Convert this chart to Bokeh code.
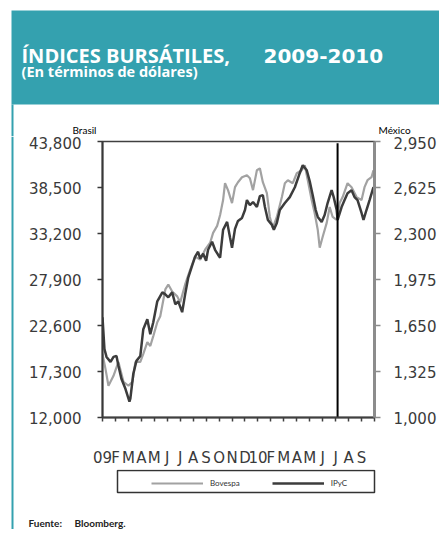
from bokeh.plotting import figure
from bokeh.layouts import column, row
from bokeh.models import (Range1d, LinearAxis, FixedTicker, NumeralTickFormatter,
                          Label, Legend, LegendItem)
from bokeh.embed import file_html
from bokeh.resources import INLINE

# ---------------- data ----------------
month_labels = ["09", "F", "M", "A", "M", "J", "J", "A", "S", "O", "N", "D",
                "10", "F", "M", "A", "M", "J", "J", "A", "S", ""]
month_ticks = list(range(22))

bra_ticks = [12000, 17300, 22600, 27900, 33200, 38500, 43800]
mex_ticks = [1000, 1325, 1650, 1975, 2300, 2625, 2950]

bov_month = [0.00, 0.23, 0.46, 0.85, 1.23, 1.62, 2.00, 2.31, 2.54, 2.92,
             3.15, 3.46, 3.69, 3.92, 4.23, 4.46, 4.85, 5.08, 5.38, 5.77,
             6.00, 6.38, 6.77, 7.15, 7.54, 7.92, 8.31, 8.54, 8.85, 9.08,
             9.31, 9.46, 9.69, 10.00, 10.23, 10.46, 10.77, 11.15, 11.38, 11.62,
             11.92, 12.15, 12.38, 12.69, 12.92, 13.15, 13.46, 13.85, 14.08, 14.31,
             14.69, 15.00, 15.38, 15.62, 15.85, 16.15, 16.38, 16.62, 16.77, 17.00,
             17.31, 17.54, 17.77, 18.08, 18.31, 18.54, 18.92, 19.23, 19.62, 20.00,
             20.23, 20.46, 20.77, 20.92]
bov_value = [19321, 17605, 15660, 16804, 18405, 16118, 15660, 16118, 18405, 18405,
             19321, 20693, 20236, 21380, 22981, 23667, 26756, 27328, 26527, 25955,
             25269, 27328, 29044, 30531, 30188, 31331, 32132, 33276, 34077, 35335,
             37051, 38996, 38195, 36708, 38538, 39110, 39682, 39911, 39568, 38195,
             40483, 40711, 39110, 37852, 35106, 33848, 35106, 37394, 38996, 39339,
             38996, 40140, 40483, 41055, 39339, 37051, 35564, 33619, 31560, 32819,
             34420, 36250, 35106, 34763, 36708, 37394, 38996, 38538, 37394, 37051,
             38538, 39339, 39682, 40483]

ipc_month = [0.00, 0.15, 0.31, 0.62, 0.85, 1.08, 1.23, 1.46, 1.77, 2.08,
             2.15, 2.38, 2.62, 2.92, 3.15, 3.46, 3.69, 3.92, 4.23, 4.62,
             4.85, 5.08, 5.38, 5.62, 5.85, 6.15, 6.38, 6.62, 6.92, 7.15,
             7.38, 7.54, 7.77, 8.00, 8.15, 8.46, 8.69, 8.92, 9.08, 9.31,
             9.62, 9.85, 10.00, 10.23, 10.46, 10.77, 11.00, 11.15, 11.38, 11.62,
             11.92, 12.15, 12.38, 12.54, 12.77, 13.08, 13.23, 13.46, 13.69, 14.08,
             14.46, 14.85, 15.23, 15.46, 15.77, 16.00, 16.23, 16.46, 16.62, 16.92,
             17.15, 17.38, 17.69, 17.85, 18.08, 18.15, 18.46, 18.69, 18.92, 19.23,
             19.46, 19.69, 20.00, 20.15, 20.38, 20.62, 20.92]
ipc_value = [1708, 1484, 1428, 1393, 1428, 1435, 1365, 1274, 1203, 1112,
             1133, 1309, 1400, 1435, 1624, 1694, 1589, 1673, 1821, 1884,
             1870, 1849, 1884, 1800, 1821, 1744, 1870, 1989, 2073, 2136,
             2171, 2122, 2157, 2108, 2185, 2242, 2185, 2150, 2129, 2326,
             2382, 2270, 2199, 2333, 2389, 2410, 2466, 2536, 2501, 2522,
             2487, 2564, 2571, 2487, 2396, 2361, 2326, 2375, 2466, 2515,
             2557, 2627, 2726, 2782, 2747, 2669, 2571, 2466, 2417, 2382,
             2431, 2515, 2606, 2557, 2466, 2396, 2487, 2536, 2585, 2606,
             2557, 2536, 2445, 2396, 2466, 2536, 2627]

spike_month = [18.15]

series_names = ["Bovespa", "IPyC"]
title_parts = ["ÍNDICES BURSÁTILES,", "2009-2010"]
subtitle_text = "(En términos de dólares)"
source_parts = ["Fuente:", "Bloomberg."]

# ---------------- styles ----------------
TEAL = "#34A1AF"
TXT = "#3a3a3a"
BOV_COL = "#a2a2a2"
IPC_COL = "#3c3c3c"
W, H = 439, 529
HEAD_H = 136
RULE_W = 14
MAIN_H = 333
FOOT_H = H - HEAD_H - MAIN_H


def blank(width, height):
    f = figure(width=width, height=height, output_backend="svg", toolbar_location=None,
               x_range=Range1d(0, width), y_range=Range1d(height, 0),
               x_axis_location=None, y_axis_location=None, min_border=0, title=None)
    f.xgrid.visible = False
    f.ygrid.visible = False
    f.outline_line_color = None
    f.background_fill_color = "white"
    f.border_fill_color = "white"
    f.frame_align = False
    return f


def lab(f, x, y, text, size, font="Lato", style="normal", color="black", align="left"):
    f.add_layout(Label(x=x, y=y, text=text, text_font=font, text_font_size=size,
                       text_font_style=style, text_color=color, text_align=align,
                       text_baseline="alphabetic"))


# ---------------- header ----------------
head = blank(W, HEAD_H)
head.quad(left=[11], right=[W], top=[10], bottom=[104], fill_color=TEAL, line_color=None)
head.quad(left=[11], right=[13], top=[104], bottom=[HEAD_H], fill_color=TEAL, line_color=None)
lab(head, 21, 55, title_parts[0], "20px", font="Open Sans", style="bold", color="white")
lab(head, 263, 55, title_parts[1], "20px", font="DejaVu Sans", style="bold", color="white")
lab(head, 21, 71, subtitle_text, "14.5px", font="Open Sans", style="bold", color="white")
lab(head, 72, 129, "Brasil", "10px")
lab(head, 378, 129, "México", "10px")

# ---------------- left rule ----------------
rule = blank(RULE_W, H - HEAD_H)
rule.quad(left=[11], right=[13], top=[0], bottom=[H - HEAD_H], fill_color=TEAL, line_color=None)

# ---------------- main chart ----------------
p = figure(width=W - RULE_W, height=MAIN_H, output_backend="svg", toolbar_location=None,
           x_range=Range1d(0, 21), y_range=Range1d(bra_ticks[0], bra_ticks[-1]),
           min_border_left=88, min_border_right=64, min_border_top=5,
           min_border_bottom=MAIN_H - 5 - 278, title=None)
p.frame_align = False
p.extra_y_ranges = {"mx": Range1d(mex_ticks[0], mex_ticks[-1])}
p.xgrid.visible = False
p.ygrid.visible = False
p.background_fill_color = "white"
p.border_fill_color = "white"
p.outline_line_color = "#404040"
p.outline_line_width = 1.5

xa = p.xaxis[0]
xa.ticker = FixedTicker(ticks=month_ticks)
xa.major_label_overrides = {t: l for t, l in zip(month_ticks, month_labels)}
xa.major_label_text_font = "DejaVu Sans"
xa.major_label_text_font_size = "15px"
xa.major_label_text_color = TXT
xa.major_label_standoff = 27
xa.axis_line_color = "#404040"
xa.axis_line_width = 2
xa.major_tick_line_color = "#404040"
xa.major_tick_line_width = 1.5
xa.major_tick_in = 0
xa.major_tick_out = 4
xa.minor_tick_line_color = None

ya = p.yaxis[0]
ya.ticker = FixedTicker(ticks=bra_ticks)
ya.formatter = NumeralTickFormatter(format="0,0")
ya.major_label_text_font = "DejaVu Sans"
ya.major_label_text_font_size = "15px"
ya.major_label_text_color = TXT
ya.major_label_standoff = 16
ya.axis_line_color = "#383838"
ya.axis_line_width = 2
ya.major_tick_line_color = "#383838"
ya.major_tick_line_width = 1.5
ya.major_tick_in = 0
ya.major_tick_out = 5
ya.minor_tick_line_color = None

ra = LinearAxis(y_range_name="mx", ticker=FixedTicker(ticks=mex_ticks),
                formatter=NumeralTickFormatter(format="0,0"))
ra.major_label_text_font = "DejaVu Sans"
ra.major_label_text_font_size = "15px"
ra.major_label_text_color = TXT
ra.major_label_standoff = 13
ra.axis_line_color = "#8c8c8c"
ra.axis_line_width = 3
ra.major_tick_line_color = "#8c8c8c"
ra.major_tick_line_width = 1.5
ra.major_tick_in = 0
ra.major_tick_out = 6
ra.minor_tick_line_color = None
p.add_layout(ra, "right")

p.line(bov_month, bov_value, line_color=BOV_COL, line_width=2.2)
p.line(ipc_month, ipc_value, line_color=IPC_COL, line_width=2.5, y_range_name="mx")
p.segment(x0=spike_month, x1=spike_month, y0=[bra_ticks[0]], y1=[bra_ticks[-1] - 200],
          line_color="black", line_width=2)

# ---------------- footer: legend + source ----------------
foot = blank(W - RULE_W, FOOT_H)
foot.quad(left=[117 - RULE_W], right=[374 - RULE_W], top=[1], bottom=[23], fill_color=None,
          line_color="#333333", line_width=1.5)
nan = float("nan")
lg_bov = foot.line(x=[nan, nan], y=[nan, nan], line_color=BOV_COL, line_width=2.2)
lg_ipc = foot.line(x=[nan, nan], y=[nan, nan], line_color=IPC_COL, line_width=2.5)
legend = Legend(items=[LegendItem(label=series_names[0], renderers=[lg_bov]),
                       LegendItem(label=series_names[1], renderers=[lg_ipc])],
                orientation="horizontal", location=(153 - RULE_W - 2, FOOT_H - 24),
                glyph_width=52, glyph_height=20, label_standoff=7, spacing=32,
                padding=2, margin=0, border_line_color=None, background_fill_alpha=0,
                label_text_font="Lato", label_text_font_size="8px",
                label_text_color="#333333")
foot.add_layout(legend, "center")
lab(foot, 28 - RULE_W, FOOT_H - 7, source_parts[0], "10px", style="bold", color="#222222")
lab(foot, 74 - RULE_W, FOOT_H - 7, source_parts[1], "10px", style="bold", color="#222222")

layout = column(head, row(rule, column(p, foot)))
open("out.html", "w").write(file_html(layout, INLINE))
